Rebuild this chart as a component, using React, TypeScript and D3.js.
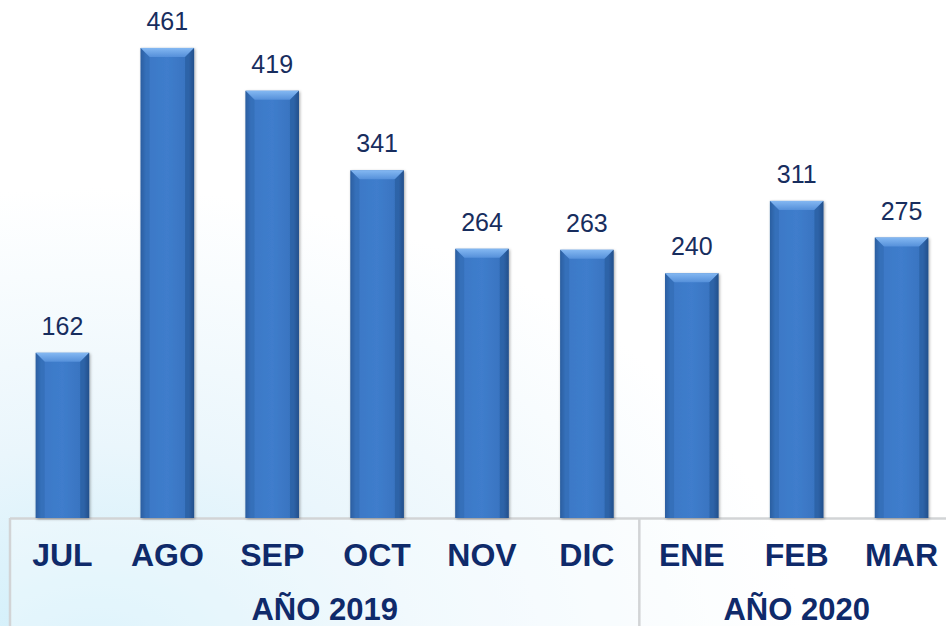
import React, { useEffect, useRef } from 'react'
import * as d3 from 'd3'

const WIDTH = 946
const HEIGHT = 626

const months = ['JUL', 'AGO', 'SEP', 'OCT', 'NOV', 'DIC', 'ENE', 'FEB', 'MAR']
const values = [162, 461, 419, 341, 264, 263, 240, 311, 275]
const years = ['AÑO 2019', 'AÑO 2020']
const yearSpans = [6, 3]

const BASE = 518
const LEFT = 10

export default function App() {
  const ref = useRef<SVGSVGElement>(null)

  useEffect(() => {
    const svg = d3.select(ref.current)
    svg.selectAll('*').remove()

    const defs = svg.append('defs')
    const bg = defs.append('radialGradient').attr('id', 'bg')
      .attr('cx', '0.1').attr('cy', '1.05').attr('r', '0.75')
    bg.append('stop').attr('offset', '0').attr('stop-color', '#cdeefa')
    bg.append('stop').attr('offset', '0.45').attr('stop-color', '#eaf6fc')
    bg.append('stop').attr('offset', '1').attr('stop-color', '#ffffff')

    const barGrad = defs.append('linearGradient').attr('id', 'barGrad')
      .attr('x1', '0').attr('x2', '1').attr('y1', '0').attr('y2', '0')
    barGrad.append('stop').attr('offset', '0').attr('stop-color', '#2a5b9c')
    barGrad.append('stop').attr('offset', '0.1').attr('stop-color', '#3b78c6')
    barGrad.append('stop').attr('offset', '0.5').attr('stop-color', '#3f7dcc')
    barGrad.append('stop').attr('offset', '0.9').attr('stop-color', '#3873bf')
    barGrad.append('stop').attr('offset', '1').attr('stop-color', '#24518c')

    const capGrad = defs.append('linearGradient').attr('id', 'capGrad')
      .attr('x1', '0').attr('x2', '0').attr('y1', '0').attr('y2', '1')
    capGrad.append('stop').attr('offset', '0').attr('stop-color', '#84b8f2')
    capGrad.append('stop').attr('offset', '1').attr('stop-color', '#5590da')

    const shadow = defs.append('filter').attr('id', 'shadow')
      .attr('x', '-20%').attr('y', '-5%').attr('width', '140%').attr('height', '110%')
    shadow.append('feDropShadow').attr('dx', 1).attr('dy', 1)
      .attr('stdDeviation', 1.5).attr('flood-color', '#000').attr('flood-opacity', 0.35)

    svg.append('rect').attr('width', WIDTH).attr('height', HEIGHT).attr('fill', 'url(#bg)')

    const x = d3.scaleBand<string>()
      .domain(months)
      .range([LEFT, LEFT + 944])
      .paddingInner(0.49)
      .paddingOuter(0.245)

    const y = d3.scaleLinear()
      .domain([0, 508])
      .range([BASE, 0])

    // axis box
    const step = x.step()
    svg.append('rect')
      .attr('x', LEFT).attr('y', BASE)
      .attr('width', WIDTH).attr('height', HEIGHT - BASE)
      .attr('fill', '#ffffff').attr('fill-opacity', 0.35)
    svg.append('line')
      .attr('x1', LEFT).attr('x2', WIDTH).attr('y1', BASE + 0.5).attr('y2', BASE + 0.5)
      .attr('stroke', '#d2d4d6').attr('stroke-width', 2.5)
    svg.append('line')
      .attr('x1', LEFT).attr('x2', LEFT).attr('y1', BASE).attr('y2', HEIGHT)
      .attr('stroke', '#d2d4d6').attr('stroke-width', 2.5)

    let acc = 0
    const yearG = svg.append('g')
    years.forEach((yr, i) => {
      const x0 = LEFT + acc * step
      const x1 = LEFT + (acc + yearSpans[i]) * step
      if (i > 0) {
        yearG.append('line')
          .attr('x1', x0).attr('x2', x0).attr('y1', BASE).attr('y2', HEIGHT)
          .attr('stroke', '#d2d4d6').attr('stroke-width', 2.5)
      }
      yearG.append('text')
        .attr('x', (x0 + x1) / 2)
        .attr('y', 620)
        .attr('text-anchor', 'middle')
        .attr('font-family', 'Liberation Sans, Arial, sans-serif')
        .attr('font-weight', 'bold')
        .attr('font-size', 31)
        .attr('fill', '#0f2a6a')
        .text(yr)
      acc += yearSpans[i]
    })

    svg.append('g').selectAll('text')
      .data(months)
      .enter()
      .append('text')
      .attr('x', (d) => x(d)! + x.bandwidth() / 2)
      .attr('y', 566)
      .attr('text-anchor', 'middle')
      .attr('font-family', 'Liberation Sans, Arial, sans-serif')
      .attr('font-weight', 'bold')
      .attr('font-size', 32)
      .attr('fill', '#0f2a6a')
      .text((d) => d)

    const bars = svg.append('g').selectAll('g')
      .data(values)
      .enter()
      .append('g')

    const bw = x.bandwidth()
    const bev = 9

    bars.append('rect')
      .attr('x', (d, i) => x(months[i])!)
      .attr('y', (d) => y(d))
      .attr('width', bw)
      .attr('height', (d) => BASE - y(d))
      .attr('fill', 'url(#barGrad)')
      .attr('filter', 'url(#shadow)')

    bars.append('path')
      .attr('d', (d, i) => {
        const x0 = x(months[i])!
        const t = y(d)
        return `M${x0},${t}L${x0 + bw},${t}L${x0 + bw - bev},${t + bev}L${x0 + bev},${t + bev}Z`
      })
      .attr('fill', 'url(#capGrad)')

    bars.append('path')
      .attr('d', (d, i) => {
        const x0 = x(months[i])!
        const t = y(d)
        return `M${x0},${t}L${x0 + bev},${t + bev}L${x0 + bev},${BASE}L${x0},${BASE}Z`
      })
      .attr('fill', '#2d63a8').attr('opacity', 0.4)

    bars.append('path')
      .attr('d', (d, i) => {
        const x0 = x(months[i])!
        const t = y(d)
        return `M${x0 + bw},${t}L${x0 + bw - bev},${t + bev}L${x0 + bw - bev},${BASE}L${x0 + bw},${BASE}Z`
      })
      .attr('fill', '#22508c').attr('opacity', 0.45)

    bars.append('text')
      .attr('x', (d, i) => x(months[i])! + bw / 2)
      .attr('y', (d) => y(d) - 18)
      .attr('text-anchor', 'middle')
      .attr('font-family', 'Liberation Sans, Arial, sans-serif')
      .attr('font-size', 25)
      .attr('fill', '#172d5e')
      .text((d) => d)
  }, [])

  return (
    <svg
      ref={ref}
      width={WIDTH}
      height={HEIGHT}
      style={{ position: 'absolute', left: 0, top: 0, display: 'block' }}
    />
  )
}
